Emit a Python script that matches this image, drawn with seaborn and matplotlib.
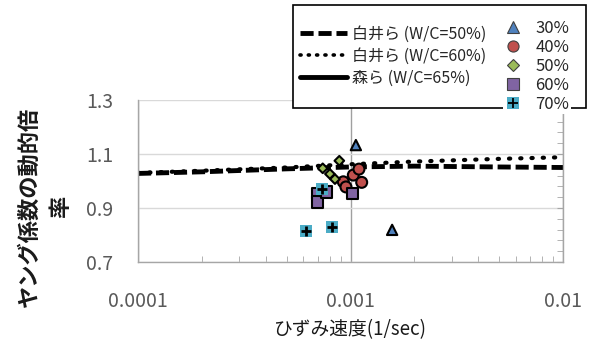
import numpy as np
import pandas as pd
import seaborn as sns
import matplotlib.pyplot as plt
from matplotlib.lines import Line2D
from matplotlib.patches import Rectangle
from matplotlib.legend_handler import HandlerTuple
from matplotlib.ticker import MultipleLocator, LogLocator, NullFormatter

sns.set_style('white')
plt.rcParams['font.family'] = ['Noto Sans CJK JP', 'DejaVu Sans']

# measured points (strain rate [1/sec], dynamic ratio of Young's modulus)
rate_30 = [1.06e-3, 1.57e-3]
ratio_30 = [1.133, 0.819]
rate_40 = [9.25e-4, 9.52e-4, 1.031e-3, 1.096e-3, 1.129e-3]
ratio_40 = [0.997, 0.978, 1.022, 1.044, 0.995]
rate_50 = [7.4e-4, 8.0e-4, 8.45e-4, 8.86e-4]
ratio_50 = [1.047, 1.026, 1.007, 1.075]
rate_60 = [6.98e-4, 6.98e-4, 7.73e-4, 1.02e-3]
ratio_60 = [0.954, 0.923, 0.960, 0.954]
rate_70 = [7.32e-4, 6.17e-4, 8.21e-4]
ratio_70 = [0.969, 0.816, 0.831]

# reference curves
shirai_x = [1e-4, 2e-4, 5e-4, 1e-3, 2e-3, 5e-3, 1e-2]
shirai_50 = [1.028, 1.034, 1.045, 1.052, 1.055, 1.052, 1.050]
shirai_60 = [1.030, 1.038, 1.050, 1.062, 1.072, 1.082, 1.088]

wc_levels = ['30%', '40%', '50%', '60%']
colors = {'30%': '#4f81bd', '40%': '#c0504d', '50%': '#9bbb59',
          '60%': '#8064a2', '70%': '#4bacc6'}
markers = {'30%': '^', '40%': 'o', '50%': 'D', '60%': 's'}
sizes = {'30%': 55, '40%': 62, '50%': 24, '60%': 68}

df = pd.concat([
    pd.DataFrame({'rate': r, 'ratio': v, 'wc': w})
    for r, v, w in [(rate_30, ratio_30, '30%'), (rate_40, ratio_40, '40%'),
                    (rate_50, ratio_50, '50%'), (rate_60, ratio_60, '60%')]
], ignore_index=True)

fig = plt.figure(figsize=(5.9, 3.47), dpi=100)
ax = fig.add_axes([138 / 590, 85 / 347, 425 / 590, 162 / 347])

sns.lineplot(x=shirai_x, y=shirai_60, ax=ax, color='black', lw=3,
             linestyle=(0, (0.3, 2.4)), dash_capstyle='round', zorder=2)
sns.lineplot(x=shirai_x, y=shirai_50, ax=ax, color='black', lw=3.5,
             linestyle=(0, (2.7, 1.0)), zorder=2)

sns.scatterplot(data=df, x='rate', y='ratio', hue='wc', style='wc', size='wc',
                palette=colors, markers=markers, sizes=sizes,
                edgecolor='black', linewidth=1.5, legend=False, ax=ax, zorder=3)
sns.scatterplot(x=rate_70, y=ratio_70, marker='s', color=colors['70%'], s=70,
                linewidth=0, ax=ax, zorder=4)
sns.scatterplot(x=rate_70, y=ratio_70, marker='+', color='black', s=50,
                linewidth=2, ax=ax, zorder=5)

ax.set_xscale('log')
ax.set_xlim(1e-4, 1e-2)
ax.set_ylim(0.7, 1.3)
ax.set_yticks([0.7, 0.9, 1.1, 1.3])
ax.set_xticks([1e-4, 1e-3, 1e-2])
ax.set_xticklabels(['0.0001', '0.001', '0.01'])
ax.xaxis.set_minor_locator(LogLocator(base=10, subs=np.arange(2, 10)))
ax.xaxis.set_minor_formatter(NullFormatter())
ax.yaxis.set_minor_locator(MultipleLocator(0.04, offset=0.02))

ax.yaxis.grid(True, color='#d9d9d9', lw=1)
ax.xaxis.grid(True, which='major', color='#a0a0a0', lw=1)
ax.spines['top'].set_visible(False)
for s in ['left', 'bottom', 'right']:
    ax.spines[s].set_visible(True)
    ax.spines[s].set_color('#a6a6a6')
    ax.spines[s].set_linewidth(1)

ax.tick_params(axis='x', which='major', length=0, pad=21, labelsize=14,
               labelcolor='#595959')
ax.tick_params(axis='x', which='minor', bottom=True, direction='in',
               length=4, color='#a6a6a6')
ax.tick_params(axis='y', which='both', left=False, right=True, direction='in',
               length=4, color='#a6a6a6', labelleft=True, labelright=False)
ax.tick_params(axis='y', which='major', pad=18, labelsize=14,
               labelcolor='#595959')

ax.set_xlabel('ひずみ速度(1/sec)', fontsize=13.5, color='#1a1a1a')
ax.xaxis.set_label_coords(0.5, -0.35)
ax.set_ylabel('ヤング係数の動的倍\n率', fontsize=16, fontweight='bold',
              linespacing=1.5, color='#1a1a1a')
ax.yaxis.label.set_va('center')
ax.yaxis.set_label_coords(-0.219, 0.34)

# legend box
fig.add_artist(Rectangle((293 / 590, 1 - 108 / 347), 293 / 590, 103 / 347,
                         transform=fig.transFigure, facecolor='white',
                         edgecolor='black', lw=1.2, zorder=3))

line_handles = [
    Line2D([], [], color='black', lw=3.5, linestyle=(0, (2.7, 1.0))),
    Line2D([], [], color='black', lw=2.6, linestyle=(0, (0.3, 2.0)),
           dash_capstyle='round'),
    Line2D([], [], color='black', lw=3.5),
]
line_labels = ['白井ら (W/C=50%)', '白井ら (W/C=60%)', '森ら (W/C=65%)']
leg1 = fig.legend(line_handles, line_labels, loc='upper left',
                  bbox_to_anchor=(300 / 590, 1 - 26 / 347), frameon=False,
                  fontsize=11.5, handlelength=2.95, handletextpad=0.3,
                  labelspacing=0.3, borderpad=0, borderaxespad=0)
leg1.set_zorder(6)

marker_handles = [
    Line2D([], [], marker=markers[w], ls='none', markersize=8 if w != '50%' else 6.5,
           markerfacecolor=colors[w], markeredgecolor='#404040',
           markeredgewidth=0.8)
    for w in wc_levels
]
marker_handles.append((
    Line2D([], [], marker='s', ls='none', markersize=8,
           markerfacecolor=colors['70%'], markeredgewidth=0),
    Line2D([], [], marker='+', ls='none', markersize=7.5, color='black',
           markeredgewidth=1.3),
))
leg2 = fig.legend(marker_handles, wc_levels + ['70%'], loc='upper left',
                  bbox_to_anchor=(503 / 590, 1 - 18 / 347), frameon=True,
                  facecolor='white', edgecolor='none', fancybox=False,
                  framealpha=1, fontsize=12, handlelength=1.0,
                  handletextpad=0.85, labelspacing=0.12, borderpad=0.1,
                  borderaxespad=0, handler_map={tuple: HandlerTuple()})
leg2.set_zorder(6)

fig.savefig('out.png', dpi=100)
